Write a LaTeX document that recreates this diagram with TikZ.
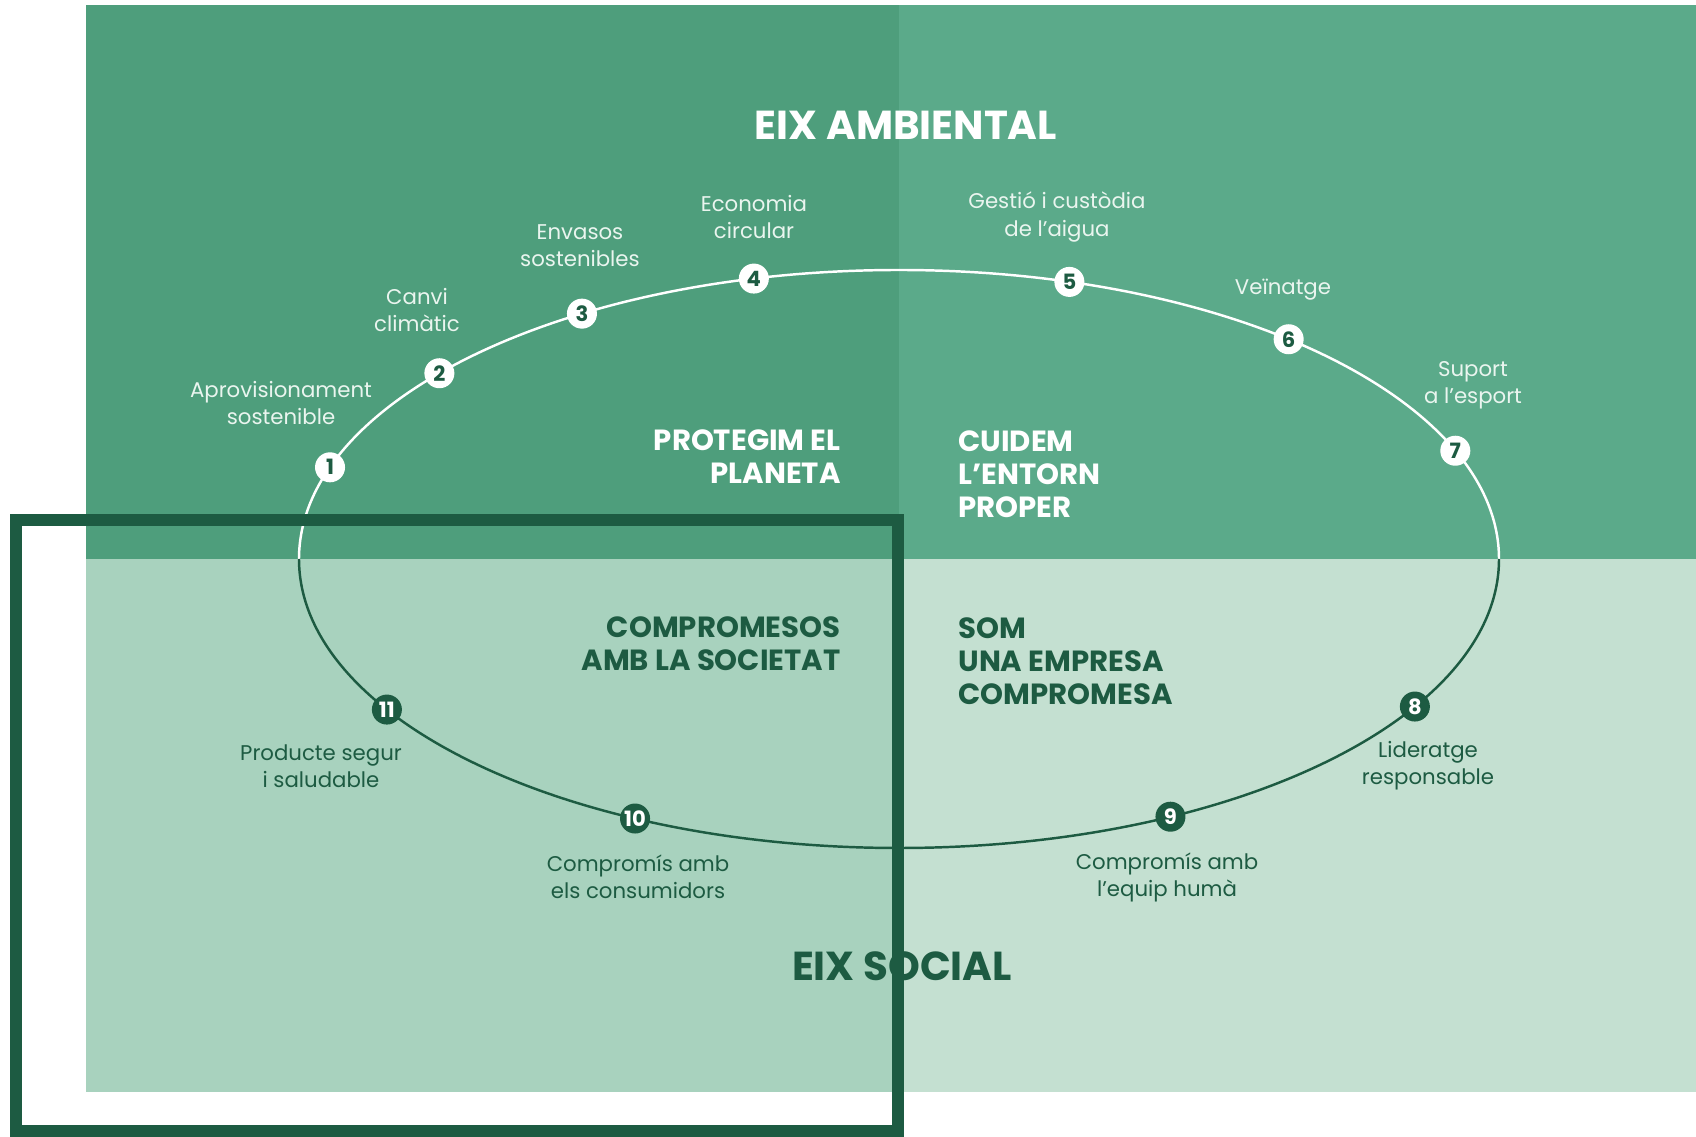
\documentclass[tikz,border=0pt]{standalone}
\usepackage{fontspec}
\setmainfont{Poppins}
\definecolor{envdark}{HTML}{4E9E7C}
\definecolor{envlight}{HTML}{5BAA8A}
\definecolor{socdark}{HTML}{A8D2BE}
\definecolor{soclight}{HTML}{C4E0D1}
\definecolor{deepgreen}{HTML}{1D5B42}
\definecolor{paletxt}{HTML}{EAF5EF}

\begin{document}
\begin{tikzpicture}[x=0.01cm, y=0.01cm,
    lbltop/.style={align=center, text=paletxt, font=\fontsize{6.05}{7.7}\selectfont},
    lblbot/.style={align=center, text=deepgreen, font=\fontsize{6.05}{7.7}\selectfont},
    numtop/.style={circle, fill=white, text=deepgreen, minimum size=0.3cm, inner sep=0pt, font=\fontsize{6}{6}\selectfont\bfseries},
    numbot/.style={circle, fill=deepgreen, text=white, minimum size=0.3cm, inner sep=0pt, font=\fontsize{6}{6}\selectfont\bfseries},
    headw/.style={text=white, font=\fontsize{8.3}{9.4}\selectfont\bfseries},
    headg/.style={text=deepgreen, font=\fontsize{8.3}{9.4}\selectfont\bfseries},
    axis/.style={font=\fontsize{11.5}{13}\selectfont\bfseries}]
    \useasboundingbox (0,0) rectangle (1696,-1137);
    % the four fields
    \fill[envdark] (86,-5) rectangle (899,-559);
    \fill[envlight] (899,-5) rectangle (1696,-559);
    \fill[socdark] (86,-559) rectangle (899,-1092);
    \fill[soclight] (899,-559) rectangle (1696,-1092);
    % the ring
    \coordinate (ctr) at (899,-559);
    \draw[white, line width=0.7pt] (ctr) ++(180:600 and 289) arc[start angle=180, end angle=0, x radius=600, y radius=289];
    \draw[deepgreen, line width=0.7pt] (ctr) ++(180:600 and 289) arc[start angle=180, end angle=360, x radius=600, y radius=289];
    \foreach \i/\a in {1/161.5, 2/140, 3/121.9, 4/104, 5/73.5, 6/49.5, 7/22}
        \node[numtop] (n\i) at ([shift={(ctr)}]\a:600 and 289) {\i};
    \foreach \i/\a in {8/-30.7, 9/-63.1, 10/-116.1, 11/-148.6}
        \node[numbot] (n\i) at ([shift={(ctr)}]\a:600 and 289) {\i};
    % labels
    \node[lbltop] (lab1) at (281,-403) {Aprovisionament\\sostenible};
    \node[lbltop] (lab2) at (417,-310) {Canvi\\climàtic};
    \node[lbltop] (lab3) at (580,-246) {Envasos\\sostenibles};
    \node[lbltop] (lab4) at (754,-217) {Economia\\circular};
    \node[lbltop] (lab5) at (1057,-217) {Gestió i custòdia\\de l’aigua};
    \node[lbltop] (lab6) at (1283,-290) {Veïnatge};
    \node[lbltop] (lab7) at (1473,-385) {Suport\\a l’esport};
    \node[lblbot] (lab8) at (1428,-766) {Lideratge\\responsable};
    \node[lblbot] (lab9) at (1167,-877) {Compromís amb\\l’equip humà};
    \node[lblbot] (lab10) at (638,-877) {Compromís amb\\els consumidors};
    \node[lblbot] (lab11) at (321,-766) {Producte segur\\i saludable};
    % headings
    \node[axis, text=white] (amb) at (906,-125) {EIX AMBIENTAL};
    \node[axis, text=deepgreen] (soc) at (902,-966) {EIX SOCIAL};
    \node[headw, anchor=east, align=right] (planeta) at (853,-457) {PROTEGIM EL\\PLANETA};
    \node[headw, anchor=west, align=left] (entorn) at (946,-474) {CUIDEM\\L’ENTORN\\PROPER};
    \node[headg, anchor=east, align=right] (societat) at (853,-644) {COMPROMESOS\\AMB LA SOCIETAT};
    \node[headg, anchor=west, align=left] (empresa) at (946,-661) {SOM\\UNA EMPRESA\\COMPROMESA};
    % frame
    \draw[deepgreen, line width=0.115cm] (16,-520) rectangle (898,-1131);
\end{tikzpicture}
\end{document}
